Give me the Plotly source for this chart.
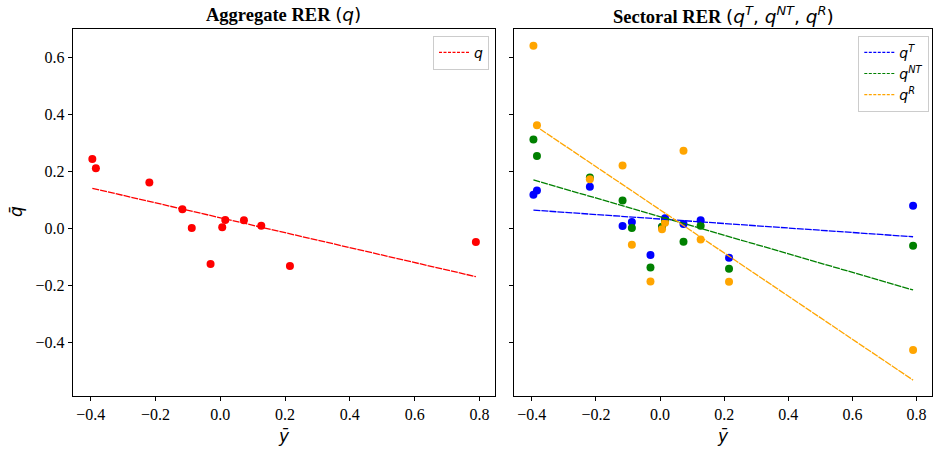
import numpy as np
import plotly.graph_objects as go

W, H = 933, 449

# ---- data ----
ybar = [-0.395, -0.384, -0.219, -0.117, -0.088, -0.030, 0.006, 0.0154, 0.073, 0.1265, 0.215, 0.789]
q_agg = [0.243, 0.2105, 0.161, 0.0667, 0.001, -0.125, 0.0035, 0.029, 0.028, 0.009, -0.132, -0.0485]
q_T = [0.118, 0.133, 0.146, 0.008, 0.022, -0.094, 0.005, 0.035, 0.015, 0.028, -0.103, 0.079]
q_NT = [0.312, 0.254, 0.178, 0.098, 0.001, -0.138, 0.0056, 0.025, -0.047, 0.009, -0.142, -0.061]
q_R = [0.641, 0.362, 0.172, 0.221, -0.058, -0.187, -0.0035, 0.0196, 0.272, -0.039, -0.188, -0.427]

x_ticks = [-0.4, -0.2, 0.0, 0.2, 0.4, 0.6, 0.8]
y_ticks = [-0.4, -0.2, 0.0, 0.2, 0.4, 0.6]


def lab(v):
    s = f"{v:.1f}"
    return s.replace("-", "\u2212")


def px(x):
    return x / W


def py(y):
    return 1 - y / H


def fit(x, y):
    x = np.asarray(x)
    y = np.asarray(y)
    b, a = np.polyfit(x, y, 1)
    xs = np.array([x.min(), x.max()])
    return xs, a + b * xs


fig = go.Figure()

DASH = "7px,1px"
LEG_DASH = "3px,1.5px"
LW = 1.3


def add_fit(xv, yv, col, name, xa, ya, leg):
    xs, ys = fit(xv, yv)
    fig.add_trace(go.Scatter(x=xs, y=ys, mode="lines", xaxis=xa, yaxis=ya,
                             line=dict(color=col, width=LW, dash=DASH),
                             showlegend=False, hoverinfo="skip"))
    # legend entry (finer dash pattern, as in the reference legend)
    fig.add_trace(go.Scatter(x=[None], y=[None], mode="lines", xaxis=xa, yaxis=ya,
                             line=dict(color=col, width=1.2, dash=LEG_DASH),
                             name=name, legend=leg))


fig.add_trace(go.Scatter(x=ybar, y=q_agg, mode="markers", xaxis="x", yaxis="y",
                         marker=dict(color="red", size=8, line=dict(width=0)),
                         showlegend=False))
add_fit(ybar, q_agg, "red", "<i>q</i>", "x", "y", "legend")

series = [(q_T, "blue", "<i>q</i><sup><i>T</i></sup>"),
          (q_NT, "green", "<i>q</i><sup><i>NT</i></sup>"),
          (q_R, "orange", "<i>q</i><sup><i>R</i></sup>")]
for vals, col, name in series:
    fig.add_trace(go.Scatter(x=ybar, y=vals, mode="markers", xaxis="x2", yaxis="y2",
                             marker=dict(color=col, size=8, line=dict(width=0)),
                             showlegend=False))
for vals, col, name in series:
    add_fit(ybar, vals, col, name, "x2", "y2", "legend2")

L1, R1 = 72.7, 495.0
L2, R2 = 514.0, 932.0
T, B = 29.0, 396.0

SERIF = "Liberation Serif"
tickfont = dict(family=SERIF, size=16, color="black")
axis_common = dict(showline=True, linecolor="black", linewidth=1, mirror=True,
                   ticks="outside", ticklen=4, tickcolor="black", tickwidth=1,
                   showgrid=False, zeroline=False, tickfont=tickfont)

xr = [-0.4556, 0.848]
yr = [-0.589, 0.70]

legend_common = dict(xanchor="right", yanchor="top", bgcolor="white",
                     bordercolor="#cccccc", borderwidth=1,
                     font=dict(family="DejaVu Sans", size=14, color="black"),
                     itemwidth=30)

fig.update_layout(
    width=W, height=H,
    margin=dict(l=0, r=0, t=0, b=0),
    font=dict(family=SERIF, size=16, color="black"),
    paper_bgcolor="white", plot_bgcolor="white",
    xaxis=dict(domain=[px(L1), px(R1)], range=xr, tickvals=x_ticks,
               ticktext=[lab(v) for v in x_ticks], anchor="y", **axis_common),
    yaxis=dict(domain=[py(B), py(T)], range=yr, tickvals=y_ticks,
               ticktext=[lab(v) for v in y_ticks], anchor="x", **axis_common),
    xaxis2=dict(domain=[px(L2), px(R2)], range=xr, tickvals=x_ticks,
                ticktext=[lab(v) for v in x_ticks], anchor="y2", **axis_common),
    yaxis2=dict(domain=[py(B), py(T)], range=yr, tickvals=y_ticks,
                showticklabels=False, anchor="x2", **axis_common),
    legend=dict(x=px(489), y=py(35.7), **legend_common),
    legend2=dict(x=px(929.3), y=py(35.7), **legend_common),
    showlegend=True,
)

title_font = dict(family=SERIF, size=18.5, color="black")
mfont = "font-family:'DejaVu Sans'"
fig.add_annotation(x=px((L1 + R1) / 2), y=py(15), xref="paper", yref="paper",
                   text=f"<b>Aggregate RER</b> <span style=\"{mfont}\">(<i>q</i>)</span>",
                   showarrow=False, font=title_font, xanchor="center", yanchor="middle")
fig.add_annotation(x=px((L2 + R2) / 2), y=py(15), xref="paper", yref="paper",
                   text=(f"<b>Sectoral RER</b> <span style=\"{mfont}\">(<i>q</i><sup><i>T</i></sup>, "
                         f"<i>q</i><sup><i>NT</i></sup>, <i>q</i><sup><i>R</i></sup>)</span>"),
                   showarrow=False, font=title_font, xanchor="center", yanchor="middle")

lab_font = dict(family="DejaVu Sans", size=17, color="black")
for cx in [(L1 + R1) / 2, (L2 + R2) / 2]:
    fig.add_annotation(x=px(cx), y=py(436), xref="paper", yref="paper",
                       text="<i>\u0233</i>", showarrow=False, font=lab_font,
                       xanchor="center", yanchor="middle")
fig.add_annotation(x=px(16), y=py(212), xref="paper", yref="paper",
                   text="<i>q\u0304</i>", showarrow=False, font=lab_font, textangle=-90,
                   xanchor="center", yanchor="middle")

fig.write_html("out.html")
